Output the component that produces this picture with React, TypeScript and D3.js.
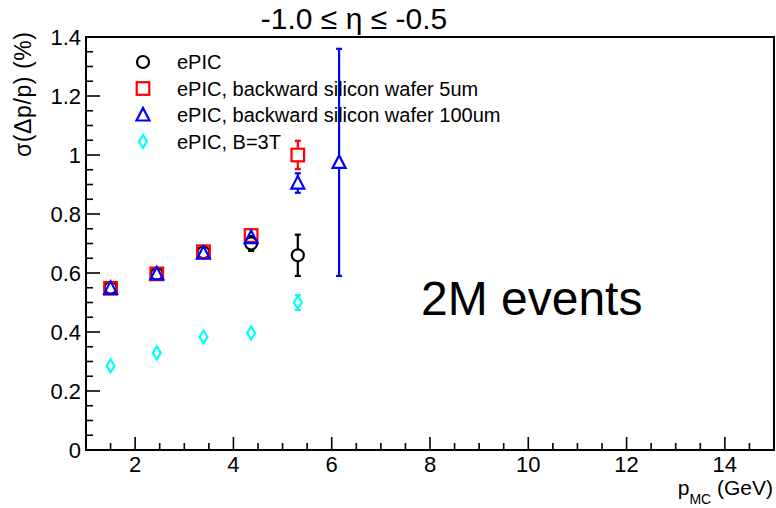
import React from "react";
import * as d3 from "d3";

const W = 776;
const H = 508;

const xPos = [1.5, 2.44, 3.39, 4.36, 5.31];
const xPosBlue = [1.5, 2.44, 3.39, 4.36, 5.31, 6.15];

const epicVals = [0.55, 0.597, 0.67, 0.7, 0.66];
const epicErr = [0.01, 0.01, 0.012, 0.025, 0.07];
const wafer5Vals = [0.548, 0.597, 0.672, 0.727, 1.0];
const wafer5Err = [0.008, 0.01, 0.012, 0.015, 0.048];
const wafer100Vals = [0.548, 0.597, 0.667, 0.72, 0.905, 0.975];
const wafer100Err = [0.008, 0.01, 0.012, 0.015, 0.033, 0.385];
const b3tVals = [0.285, 0.329, 0.383, 0.397, 0.5];
const b3tErr = [0.008, 0.01, 0.01, 0.01, 0.025];

const legendLabels = [
  "ePIC",
  "ePIC, backward silicon wafer 5um",
  "ePIC, backward silicon wafer 100um",
  "ePIC, B=3T",
];

const xTickLabels = [2, 4, 6, 8, 10, 12, 14];
const yTickLabels = [0, 0.2, 0.4, 0.6, 0.8, 1, 1.2, 1.4];

const FONT = "'Liberation Sans', Arial, Helvetica, sans-serif";

type Shape = "circle" | "square" | "triangle" | "diamond";

function Marker({ shape, cx, cy, color }: { shape: Shape; cx: number; cy: number; color: string }) {
  const sw = 2.2;
  if (shape === "circle") return <circle cx={cx} cy={cy} r={6} fill="none" stroke={color} strokeWidth={sw} />;
  if (shape === "square")
    return <rect x={cx - 6.3} y={cy - 6.3} width={12.6} height={12.6} fill="none" stroke={color} strokeWidth={sw} />;
  if (shape === "triangle")
    return (
      <path
        d={`M${cx},${cy - 7} L${cx + 6.5},${cy + 5.5} L${cx - 6.5},${cy + 5.5} Z`}
        fill="none"
        stroke={color}
        strokeWidth={sw}
      />
    );
  return (
    <path
      d={`M${cx},${cy - 6.5} L${cx + 4},${cy} L${cx},${cy + 6.5} L${cx - 4},${cy} Z`}
      fill="none"
      stroke={color}
      strokeWidth={sw}
    />
  );
}

export default function App() {
  const left = 86, right = 774, top = 37, bottom = 450;
  const x = d3.scaleLinear().domain([1, 15]).range([left, right]);
  const y = d3.scaleLinear().domain([0, 1.4]).range([bottom, top]);

  const series = [
    { xs: xPos, vals: epicVals, errs: epicErr, color: "#000000", shape: "circle" as Shape, half: 6 },
    { xs: xPos, vals: wafer5Vals, errs: wafer5Err, color: "#ff0000", shape: "square" as Shape, half: 6.3 },
    { xs: xPosBlue, vals: wafer100Vals, errs: wafer100Err, color: "#0000ff", shape: "triangle" as Shape, half: 6 },
    { xs: xPos, vals: b3tVals, errs: b3tErr, color: "#00ffff", shape: "diamond" as Shape, half: 6.5 },
  ];

  const xMinor = d3.range(1, 15.001, 0.5);
  const yMinor = d3.range(0, 1.4001, 0.05);

  return (
    <svg
      width={W}
      height={H}
      style={{ position: "absolute", left: 0, top: 0, background: "#fff", display: "block" }}
      fontFamily={FONT}
    >
      <rect x={0} y={0} width={W} height={H} fill="#fff" />
      {/* title */}
      <text x={354} y={29} fontSize={30} textAnchor="middle" fill="#000">
        -1.0 ≤ η ≤ -0.5
      </text>

      {/* ticks */}
      {xMinor.map((v, i) => {
        const major = Math.abs(v / 2 - Math.round(v / 2)) < 1e-6;
        return (
          <line key={"xm" + i} x1={x(v)} x2={x(v)} y1={bottom} y2={bottom - (major ? 13 : 7)} stroke="#000" strokeWidth={1.6} />
        );
      })}
      {yMinor.map((v, i) => {
        const major = Math.abs(v / 0.2 - Math.round(v / 0.2)) < 1e-6;
        return (
          <line key={"ym" + i} x1={left} x2={left + (major ? 14 : 7)} y1={y(v)} y2={y(v)} stroke="#000" strokeWidth={1.6} />
        );
      })}

      {/* frame */}
      <rect x={left} y={top} width={right - left} height={bottom - top} fill="none" stroke="#000" strokeWidth={2} />

      {/* tick labels */}
      {xTickLabels.map((v) => (
        <text key={"xl" + v} x={x(v)} y={472} fontSize={22} textAnchor="middle" fill="#000">
          {v}
        </text>
      ))}
      {yTickLabels.map((v) => (
        <text key={"yl" + v} x={81} y={y(v) + 8} fontSize={22} textAnchor="end" fill="#000">
          {String(v)}
        </text>
      ))}

      {/* axis titles */}
      <text x={773} y={495} fontSize={21} textAnchor="end" fill="#000">
        p<tspan fontSize={14} dy={9}>MC</tspan>
        <tspan dy={-9}> (GeV)</tspan>
      </text>
      <text
        transform={`translate(31,32) rotate(-90)`}
        fontSize={23}
        textAnchor="end"
        fill="#000"
        textLength={125}
        lengthAdjust="spacing"
      >
        σ(Δp/p) (%)
      </text>

      {/* data */}
      {series.map((s, si) => (
        <g key={"s" + si}>
          {s.vals.map((v, i) => {
            const cx = x(s.xs[i]);
            const cy = y(v);
            const yt = y(v + s.errs[i]);
            const yb = y(v - s.errs[i]);
            return (
              <g key={i}>
                {cy - s.half > yt && (
                  <>
                    <line x1={cx} x2={cx} y1={cy - s.half} y2={yt} stroke={s.color} strokeWidth={2.2} />
                    <line x1={cx - 3} x2={cx + 3} y1={yt} y2={yt} stroke={s.color} strokeWidth={2.2} />
                  </>
                )}
                {yb > cy + s.half && (
                  <>
                    <line x1={cx} x2={cx} y1={cy + s.half} y2={yb} stroke={s.color} strokeWidth={2.2} />
                    <line x1={cx - 3} x2={cx + 3} y1={yb} y2={yb} stroke={s.color} strokeWidth={2.2} />
                  </>
                )}
                <Marker shape={s.shape} cx={cx} cy={cy} color={s.color} />
              </g>
            );
          })}
        </g>
      ))}

      {/* legend */}
      {series.map((s, i) => (
        <g key={"lg" + i}>
          <Marker shape={s.shape} cx={143} cy={62 + i * 26.5} color={s.color} />
          <text x={177} y={62 + i * 26.5 + 7} fontSize={20} fill="#000">
            {legendLabels[i]}
          </text>
        </g>
      ))}

      <text x={421} y={315} fontSize={48} fill="#000">
        2M events
      </text>
    </svg>
  );
}
